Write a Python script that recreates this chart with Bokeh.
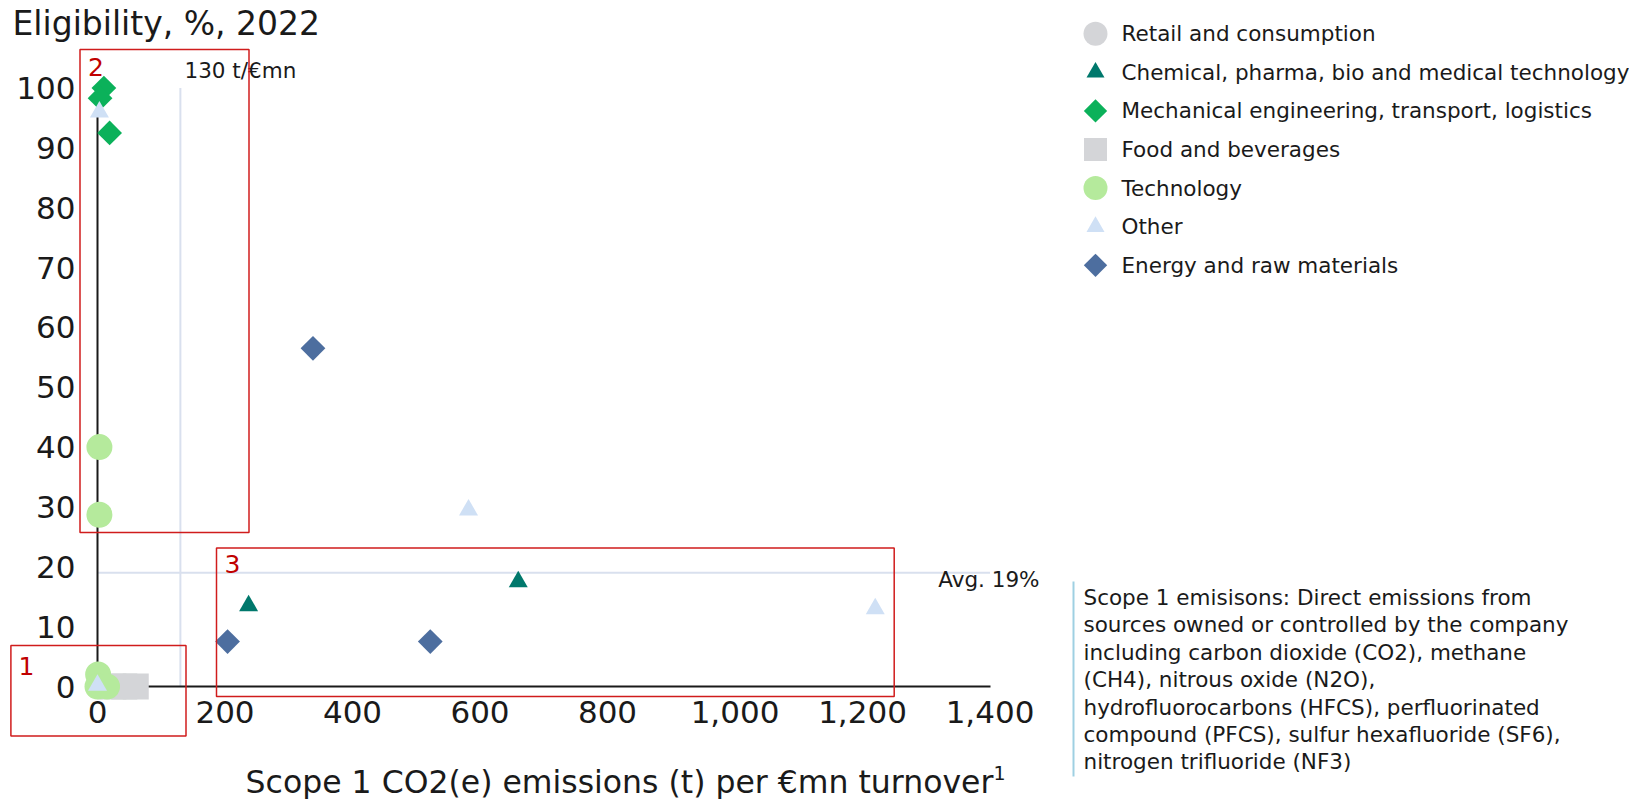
import math

from bokeh.core.properties import value
from bokeh.embed import file_html
from bokeh.models import FixedTicker, LinearAxis, NumeralTickFormatter, Range1d
from bokeh.plotting import figure
from bokeh.resources import INLINE

# ---------------------------------------------------------------- data
categories = [
    "Retail and consumption",
    "Chemical, pharma, bio and medical technology",
    "Mechanical engineering, transport, logistics",
    "Food and beverages",
    "Technology",
    "Other",
    "Energy and raw materials",
]

retail_x = [4, 8]
retail_y = [0.0, 0.5]
chemical_x = [237, 660]
chemical_y = [13.5, 17.5]
mechanical_x = [10, 4, 19]
mechanical_y = [100.0, 98.3, 92.5]
food_x = [25, 42, 60]
food_y = [0.0, 0.0, 0.0]
technology_x = [3, 3, 1, 0, 15]
technology_y = [40.0, 28.7, 2.0, 0.0, 0.0]
other_x = [3, 0, 582, 1220]
other_y = [96.0, 0.2, 29.5, 13.0]
energy_x = [338, 204, 522]
energy_y = [56.5, 7.5, 7.5]

x_ticks = [0, 200, 400, 600, 800, 1000, 1200, 1400]
y_ticks = [0, 10, 20, 30, 40, 50, 60, 70, 80, 90, 100]

threshold_emissions = 130      # t per EUR mn
average_eligibility = 19       # %

title_text = "Eligibility, %, 2022"
x_axis_text = "Scope 1 CO2(e) emissions (t) per €mn turnover"
x_axis_footnote = "1"
threshold_text = "130 t/€mn"
average_text = "Avg. 19%"
region_labels = ["1", "2", "3"]
note_lines = [
    "Scope 1 emisisons: Direct emissions from",
    "sources owned or controlled by the company",
    "including carbon dioxide (CO2), methane",
    "(CH4), nitrous oxide (N2O),",
    "hydrofluorocarbons (HFCS), perfluorinated",
    "compound (PFCS), sulfur hexafluoride (SF6),",
    "nitrogen trifluoride (NF3)",
]

# ---------------------------------------------------------------- layout
W, H = 1629, 799
X0_PX, X_PX_PER_UNIT = 97.0, 0.6375     # canvas column of x = 0
Y0_PX, Y_PX_PER_UNIT = 686.0, 5.985     # canvas row of y = 0 (from top)

FONT = value("DejaVu Sans")
INK = "#1a1a1a"
BIG = "31px"
SMALL = "21.5px"


def ux(px):
    """canvas column -> data x"""
    return (px - X0_PX) / X_PX_PER_UNIT


def uy(py):
    """canvas row (from top) -> data y"""
    return (Y0_PX - py) / Y_PX_PER_UNIT


p = figure(
    width=W, height=H, title=None,
    output_backend="svg", toolbar_location=None,
    x_range=Range1d(ux(0), ux(W)), y_range=Range1d(uy(H), uy(0)),
    x_axis_location=None, y_axis_location=None,
    min_border=0, tools="",
)
p.outline_line_color = None
p.background_fill_color = "white"
p.border_fill_color = "white"
p.grid.grid_line_color = None

# axes crossing at the origin, drawn beneath the markers
xaxis = LinearAxis(
    fixed_location=0, bounds=(0, 1400),
    ticker=FixedTicker(ticks=x_ticks),
    formatter=NumeralTickFormatter(format="0,0"),
)
yaxis = LinearAxis(
    fixed_location=0, bounds=(0, 100),
    ticker=FixedTicker(ticks=y_ticks),
)
for ax in (xaxis, yaxis):
    ax.level = "underlay"
    ax.axis_line_color = INK
    ax.axis_line_width = 2
    ax.major_tick_line_color = None
    ax.minor_tick_line_color = None
    ax.major_tick_out = 0
    ax.major_tick_in = 0
    ax.major_label_text_font = "DejaVu Sans"
    ax.major_label_text_font_size = BIG
    ax.major_label_text_color = INK
xaxis.major_label_standoff = 14
yaxis.major_label_standoff = 22
p.add_layout(xaxis, "below")
p.add_layout(yaxis, "left")

# reference lines: emissions threshold and average eligibility
ref_color = "#d9e0ee"
p.segment(x0=[threshold_emissions], y0=[0], x1=[threshold_emissions], y1=[100],
          line_color=ref_color, line_width=2, level="underlay")
p.segment(x0=[0], y0=[average_eligibility], x1=[1400], y1=[average_eligibility],
          line_color=ref_color, line_width=2, level="underlay")

# ---------------------------------------------------------------- markers
styles = [
    ("circle", "#d4d5d8", 26, 0.0),
    ("triangle", "#00786c", 19, 0.0),
    ("square", "#0bb15a", 17.5, math.pi / 4),
    ("square", "#d4d5d8", 26, 0.0),
    ("circle", "#b5ea9c", 26, 0.0),
    ("triangle", "#cfe0f5", 19, 0.0),
    ("square", "#4d6e9f", 17.5, math.pi / 4),
]
series = [
    (retail_x, retail_y),
    (chemical_x, chemical_y),
    (mechanical_x, mechanical_y),
    (food_x, food_y),
    (technology_x, technology_y),
    (other_x, other_y),
    (energy_x, energy_y),
]
for (xs, ys), (marker, color, size, angle) in zip(series, styles):
    p.scatter(x=xs, y=ys, marker=marker, size=size, angle=angle,
              fill_color=color, line_color=None)

# ---------------------------------------------------------------- legend
LEG_GLYPH_PX, LEG_TEXT_PX, LEG_TOP_PX, LEG_STEP_PX = 1095, 1121, 33.2, 38.6
leg_sizes = {"circle": 24, "triangle": 18, "square": 23}
for i, (name, (marker, color, size, angle)) in enumerate(zip(categories, styles)):
    row = LEG_TOP_PX + i * LEG_STEP_PX
    gsize = 16.5 if angle else leg_sizes[marker]
    p.scatter(x=[ux(LEG_GLYPH_PX)], y=[uy(row)], marker=marker, size=gsize,
              angle=angle, fill_color=color, line_color=None)
    p.text(x=[ux(LEG_TEXT_PX)], y=[uy(row)], text=[name],
           text_font=FONT, text_font_size=value(SMALL), text_color=INK,
           text_align="left", text_baseline="middle")

# ---------------------------------------------------------------- titles
p.text(x=[ux(12)], y=[uy(23)], text=[title_text], text_font=FONT,
       text_font_size=value("33px"), text_color=INK,
       text_align="left", text_baseline="middle")
p.text(x=[ux(619)], y=[uy(781)], text=[x_axis_text], text_font=FONT,
       text_font_size=value("31.5px"), text_color=INK,
       text_align="center", text_baseline="middle")
p.text(x=[ux(993)], y=[uy(772)], text=[x_axis_footnote], text_font=FONT,
       text_font_size=value("19px"), text_color=INK,
       text_align="left", text_baseline="middle")

# reference line labels
p.text(x=[ux(184)], y=[uy(70)], text=[threshold_text], text_font=FONT,
       text_font_size=value(SMALL), text_color=INK,
       text_align="left", text_baseline="middle")
p.text(x=[ux(1039)], y=[uy(579)], text=[average_text], text_font=FONT,
       text_font_size=value(SMALL), text_color=INK,
       text_align="right", text_baseline="middle")

# ---------------------------------------------------------------- highlighted regions
region_boxes = [(10.4, 645, 185.5, 735.5), (79.5, 49, 248.5, 532), (216, 547.5, 893.7, 696)]
region_label_pos = [(26, 665), (95.5, 66), (232, 563)]
red = "#d01c1c"
p.quad(left=[ux(b[0]) for b in region_boxes], right=[ux(b[2]) for b in region_boxes],
       top=[uy(b[1]) for b in region_boxes], bottom=[uy(b[3]) for b in region_boxes],
       fill_color=None, line_color=red, line_width=1.5)
p.text(x=[ux(px) for px, _ in region_label_pos], y=[uy(py) for _, py in region_label_pos],
       text=region_labels, text_font=FONT, text_font_size=value("25px"),
       text_color="#c00000", text_align="center", text_baseline="middle")

# ---------------------------------------------------------------- side note
NOTE_LEFT_PX, NOTE_TOP_PX, NOTE_STEP_PX = 1083, 597, 27.4
p.segment(x0=[ux(1073)], y0=[uy(581)], x1=[ux(1073)], y1=[uy(776)],
          line_color="#9fd0e2", line_width=2)
p.text(x=[ux(NOTE_LEFT_PX)] * len(note_lines),
       y=[uy(NOTE_TOP_PX + i * NOTE_STEP_PX) for i in range(len(note_lines))],
       text=note_lines, text_font=FONT, text_font_size=value(SMALL),
       text_color=INK, text_align="left", text_baseline="middle")

open("out.html", "w").write(file_html(p, INLINE))
